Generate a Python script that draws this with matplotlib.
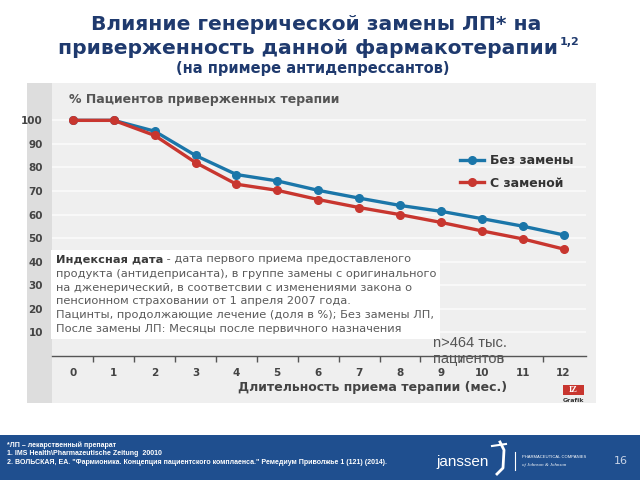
#coding:utf-8

import numpy as np
import matplotlib.pyplot as plt
from matplotlib.patches import Rectangle
from matplotlib.lines import Line2D

# data
months = np.arange(0, 13)
no_switch = [100, 100, 95.4, 85.1, 77.0, 74.3, 70.3, 67.0, 63.9, 61.4, 58.3, 55.1, 51.4]
with_switch = [100, 100, 93.6, 82.1, 72.9, 70.3, 66.4, 63.0, 60.0, 56.7, 53.1, 49.7, 45.4]
series_names = ['Без замены', 'С заменой']
y_ticks = [10, 20, 30, 40, 50, 60, 70, 80, 90, 100]

W, H = 640, 480
NAVY = '#1f3a6e'
BLUE = '#1b76a9'
RED = '#c8362f'


def px(x, y):
    # pixel (from top-left) -> figure fraction
    return x / W, 1 - y / H


def rect(fig, x0, y0, x1, y1, color, z=0):
    fig.add_artist(Rectangle(px(x0, y1), (x1 - x0) / W, (y1 - y0) / H,
                             transform=fig.transFigure, color=color, lw=0, zorder=z))


def main():
    fig = plt.figure(figsize=(6.4, 4.8), dpi=100)
    fig.patch.set_facecolor('white')

    # title
    fig.text(*px(316, 24), 'Влияние генерической замены ЛП* на', ha='center', va='center',
             fontsize=14.6, fontweight='bold', color=NAVY)
    t2 = fig.text(*px(308, 49), 'приверженность данной фармакотерапии', ha='center', va='center',
                  fontsize=14.6, fontweight='bold', color=NAVY)
    fig.text(*px(313, 69), '(на примере антидепрессантов)', ha='center', va='center',
             fontsize=10.5, fontweight='bold', color=NAVY)

    # grey panel + darker left strip
    rect(fig, 27, 83, 596, 403, '#efefef')
    rect(fig, 27, 83, 52, 403, '#dddddd')

    left, right, bottom, top = 52, 586, 356, 85
    ax = fig.add_axes([left / W, 1 - bottom / H, (right - left) / W, (bottom - top) / H])
    ax.set_facecolor('none')
    ax.set_xlim(-0.51, 12.55)
    ax.set_ylim(0, 115)

    for v in y_ticks:
        ax.axhline(v, color='#fbfbfb', lw=1.1, zorder=1)

    ax.plot(months, no_switch, color=BLUE, lw=2.4, marker='o', ms=5.5,
            label=series_names[0], zorder=3, clip_on=False)
    ax.plot(months, with_switch, color=RED, lw=2.4, marker='o', ms=5.5,
            label=series_names[1], zorder=4, clip_on=False)

    for s in ['left', 'right', 'top']:
        ax.spines[s].set_visible(False)
    ax.spines['bottom'].set_color('#555555')
    ax.spines['bottom'].set_linewidth(1.0)

    ax.set_yticks(y_ticks)
    ax.tick_params(axis='y', length=0, pad=6.5, labelsize=7.5, labelcolor='#444444')
    for lab in ax.get_yticklabels():
        lab.set_fontweight('bold')

    ax.set_xticks(months)
    ax.set_xticks(np.arange(0.5, 12.5, 1), minor=True)
    ax.tick_params(axis='x', which='major', length=0, pad=9, labelsize=7.5, labelcolor='#444444')
    ax.tick_params(axis='x', which='minor', length=4, width=1, color='#555555', direction='out')
    for lab in ax.get_xticklabels():
        lab.set_fontweight('bold')

    leg = ax.legend(loc='upper left', bbox_to_anchor=px(449, 143), bbox_transform=fig.transFigure,
                    frameon=False, handlelength=1.9, handletextpad=0.5, labelspacing=0.75,
                    prop={'weight': 'bold', 'size': 9})
    for t in leg.get_texts():
        t.set_color('#333333')

    fig.text(*px(69, 100), '% Пациентов приверженных терапии', ha='left', va='center',
             fontsize=9, fontweight='bold', color='#555555')
    fig.text(*px(373, 387), 'Длительность приема терапии (мес.)', ha='center', va='center',
             fontsize=9, fontweight='bold', color='#444444')

    # annotation box
    rect(fig, 51, 250, 440, 339, 'white', z=5)
    b = fig.text(*px(56, 259), 'Индексная дата', ha='left', va='center', fontsize=8.2,
                 fontweight='bold', color='#3a3a3a', zorder=6)
    fig.canvas.draw()
    bb = b.get_window_extent()
    fig.text(bb.x1 / W, 1 - 259 / H, ' - дата первого приема предоставленого', ha='left',
             va='center', fontsize=8.2, color='#5a5a5a', zorder=6)
    rest = ['продукта (антидеприсанта), в группе замены с оригинального',
            'на дженерический, в соответсвии с изменениями закона о',
            'пенсионном страховании от 1 апреля 2007 года.',
            'Пацинты, продолжающие лечение (доля в %); Без замены ЛП,',
            'После замены ЛП: Месяцы после первичного назначения']
    for i, line in enumerate(rest):
        fig.text(*px(56, 273.8 + 13.8 * i), line, ha='left', va='center', fontsize=8.2,
                 color='#5a5a5a', zorder=6)

    fig.text(*px(433, 343), 'n>464 тыс.', ha='left', va='center', fontsize=10.5,
             family='Liberation Sans', color='#555555', zorder=7)
    fig.text(*px(433, 359), 'пациентов', ha='left', va='center', fontsize=10.5,
             family='Liberation Sans', color='#555555', zorder=7)

    # IZ Grafik logo
    rect(fig, 563, 385, 584, 395, '#c8362f', z=6)
    fig.text(*px(573.5, 390), 'IZ', ha='center', va='center', fontsize=6, fontweight='bold',
             color='white', family='Liberation Serif', zorder=7)
    fig.text(*px(573.5, 400), 'Grafik', ha='center', va='center', fontsize=4.5,
             fontweight='bold', color='#333333', zorder=7)

    # superscript on the title
    fig.canvas.draw()
    bb2 = t2.get_window_extent()
    fig.text(bb2.x1 / W + 0.003, 1 - 42 / H, '1,2', ha='left', va='center', fontsize=8,
             fontweight='bold', color=NAVY)

    # footer band
    rect(fig, 0, 435, 640, 480, '#1f4f8f', z=1)
    foot = ['*ЛП – лекарственный препарат',
            '1. IMS Health\\Pharmazeutische Zeitung  20010',
            '2. ВОЛЬСКАЯ, ЕА. "Фармионика. Концепция пациентского комплаенса." '
            'Ремедиум Приволжье 1 (121) (2014).']
    for i, line in enumerate(foot):
        fig.text(*px(7, 445 + 8.6 * i), line, ha='left', va='center', fontsize=5,
                 fontweight='bold', family='Liberation Sans', color='white', zorder=2)
    fig.text(*px(463, 462), 'janssen', ha='center', va='center', fontsize=11,
             family='Liberation Sans', color='white', zorder=2)
    fig.add_artist(Line2D([500 / W, 504 / W, 503 / W, 497 / W], [1 - 442 / H, 1 - 450 / H, 1 - 468 / H, 1 - 474 / H],
                          transform=fig.transFigure, color='white', lw=2, zorder=2))
    fig.add_artist(Line2D([492 / W, 506 / W], [1 - 446 / H, 1 - 444 / H],
                          transform=fig.transFigure, color='white', lw=1.5, zorder=2))
    fig.add_artist(Line2D([515 / W, 515 / W], [1 - 452 / H, 1 - 470 / H],
                          transform=fig.transFigure, color='white', lw=0.8, zorder=2))
    fig.text(*px(522, 457), 'PHARMACEUTICAL COMPANIES', ha='left', va='center', fontsize=3,
             family='Liberation Sans', color='white', zorder=2)
    fig.text(*px(522, 465), 'of Johnson & Johnson', ha='left', va='center', fontsize=3.5,
             family='Liberation Serif', style='italic', color='white', zorder=2)
    fig.text(*px(621, 461), '16', ha='center', va='center', fontsize=8,
             color='#c9d4e6', zorder=2)

    fig.savefig('out.png', dpi=100)


if __name__ == '__main__':
    main()
